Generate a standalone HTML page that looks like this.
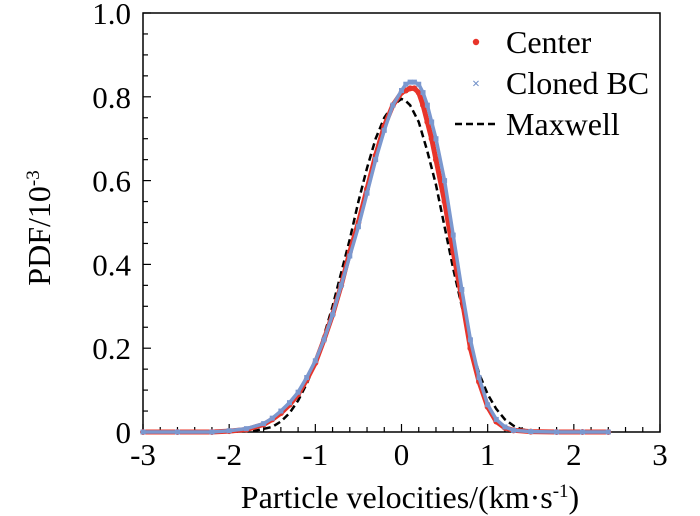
<!DOCTYPE html>
<html><head><meta charset="utf-8">
<style>
body{margin:0;background:#fff;}
svg{display:block;font-family:"Liberation Serif",serif;}
</style></head>
<body>
<svg id="chart" width="700" height="516">
<g id="axes"></g><g id="series"></g>
<g>
  <circle cx="476" cy="42" r="3.2" fill="#e8342a"/>
  <text x="506" y="53" font-size="32">Center</text>
  <text x="476" y="88" font-size="14" fill="#6f8fc8" text-anchor="middle" font-weight="bold">×</text>
  <text x="506" y="94" font-size="32">Cloned BC</text>
  <line x1="455" y1="124" x2="497" y2="124" stroke="#000" stroke-width="2.5" stroke-dasharray="7,4"/>
  <text x="506" y="135" font-size="32">Maxwell</text>
</g>
<text transform="translate(50,228) rotate(-90)" text-anchor="middle" font-size="32">PDF/10<tspan font-size="19" dy="-11">-3</tspan></text>
<text x="410" y="508" text-anchor="middle" font-size="32">Particle velocities/(km·s<tspan font-size="19" dy="-11">-1</tspan><tspan dy="11">)</tspan></text>
</svg>
<script>
const xTicks=[-3,-2,-1,0,1,2,3];
const xTickLabels=["-3","-2","-1","0","1","2","3"];
const yTicks=[0,0.2,0.4,0.6,0.8,1.0];
const yTickLabels=["0","0.2","0.4","0.6","0.8","1.0"];
const centerX=[-3,-2.6,-2.2,-2,-1.8,-1.6,-1.5,-1.4,-1.3,-1.2,-1.1,-1.0,-0.9,-0.8,-0.7,-0.6,-0.5,-0.4,-0.3,-0.2,-0.1,0,0.05,0.1,0.15,0.2,0.25,0.3,0.35,0.4,0.5,0.6,0.7,0.8,0.9,1.0,1.1,1.2,1.3,1.5,1.8,2.1,2.4];
const centerY=[0,0,0,0.002,0.006,0.018,0.03,0.045,0.065,0.09,0.125,0.165,0.22,0.28,0.35,0.43,0.5,0.58,0.66,0.73,0.78,0.81,0.815,0.82,0.82,0.81,0.78,0.74,0.7,0.65,0.55,0.43,0.32,0.2,0.12,0.06,0.025,0.01,0.004,0.001,0,0,0];
const clonedX=[-3,-2.6,-2.2,-2,-1.8,-1.6,-1.5,-1.4,-1.3,-1.2,-1.1,-1.0,-0.9,-0.8,-0.7,-0.6,-0.5,-0.4,-0.3,-0.2,-0.1,0,0.05,0.1,0.15,0.2,0.25,0.3,0.35,0.4,0.5,0.6,0.7,0.8,0.9,1.0,1.1,1.2,1.3,1.5,1.8,2.1,2.4];
const clonedY=[0,0,0,0.003,0.008,0.02,0.033,0.05,0.07,0.095,0.13,0.17,0.22,0.28,0.35,0.42,0.49,0.57,0.65,0.72,0.78,0.815,0.83,0.835,0.835,0.83,0.81,0.78,0.74,0.7,0.6,0.47,0.34,0.22,0.13,0.065,0.03,0.012,0.004,0.001,0,0,0];
const maxwellX=[-3,-2,-1.7,-1.5,-1.4,-1.3,-1.2,-1.1,-1.0,-0.9,-0.8,-0.7,-0.6,-0.5,-0.4,-0.3,-0.2,-0.1,0,0.05,0.1,0.2,0.3,0.4,0.5,0.6,0.7,0.8,0.9,1.0,1.1,1.2,1.3,1.4,1.6,2.0];
const maxwellY=[0,0,0.003,0.012,0.025,0.045,0.075,0.115,0.165,0.23,0.3,0.38,0.46,0.55,0.63,0.7,0.75,0.78,0.795,0.79,0.78,0.74,0.67,0.59,0.49,0.39,0.3,0.21,0.14,0.09,0.055,0.03,0.015,0.006,0.001,0];
const L=143,R=660,T=13,B=432,NS="http://www.w3.org/2000/svg";
const sx=v=>L+(v+3)/6*(R-L), sy=v=>B-v*(B-T);
const axes=document.getElementById('axes'), ser=document.getElementById('series');
function mk(tag,at,parent){const e=document.createElementNS(NS,tag);for(const k in at)e.setAttribute(k,at[k]);parent.appendChild(e);return e;}
const frame=mk('rect',{x:L,y:T,width:R-L,height:B-T,fill:'none',stroke:'#000','stroke-width':1.5},axes);


for(let i=0;i<=30;i++){const v=-3+i*0.2;const x=sx(v);const major=i%5===0;
  const t=mk('line',{x1:x,y1:B,x2:x,y2:B-(major?8:5),stroke:'#000','stroke-width':1.2},axes);
  
  }
for(let i=0;i<=20;i++){const y=sy(i*0.05);const major=i%4===0;
  const t=mk('line',{x1:L,y1:y,x2:L+(major?8:5),y2:y,stroke:'#000','stroke-width':1.2},axes);
  
  }
xTicks.forEach((v,i)=>{const t=mk('text',{x:sx(v),y:465,'text-anchor':'middle','font-size':31},axes);t.textContent=xTickLabels[i];
  
  });
yTicks.forEach((v,i)=>{const t=mk('text',{x:131,y:sy(v)+11,'text-anchor':'end','font-size':31},axes);t.textContent=yTickLabels[i];
  
  });
function pts(xs,ys){return xs.map((x,i)=>sx(x)+','+sy(ys[i])).join(' ');}
const m=mk('polyline',{points:pts(maxwellX,maxwellY),fill:'none',stroke:'#000','stroke-width':2.5,'stroke-dasharray':'7,4'},ser);


const c=mk('polyline',{points:pts(centerX,centerY),fill:'none',stroke:'#e8342a','stroke-width':5},ser);


centerX.forEach((x,i)=>{const d=mk('circle',{cx:sx(x),cy:sy(centerY[i]),r:3,fill:'#e8342a'},ser);
  
  });
const b=mk('polyline',{points:pts(clonedX,clonedY),fill:'none',stroke:'#7b98cf','stroke-width':3.5},ser);


clonedX.forEach((x,i)=>{const d=mk('rect',{x:sx(x)-2.5,y:sy(clonedY[i])-2.5,width:5,height:5,fill:'#7b98cf'},ser);
  
  });
</script>
</body></html>
